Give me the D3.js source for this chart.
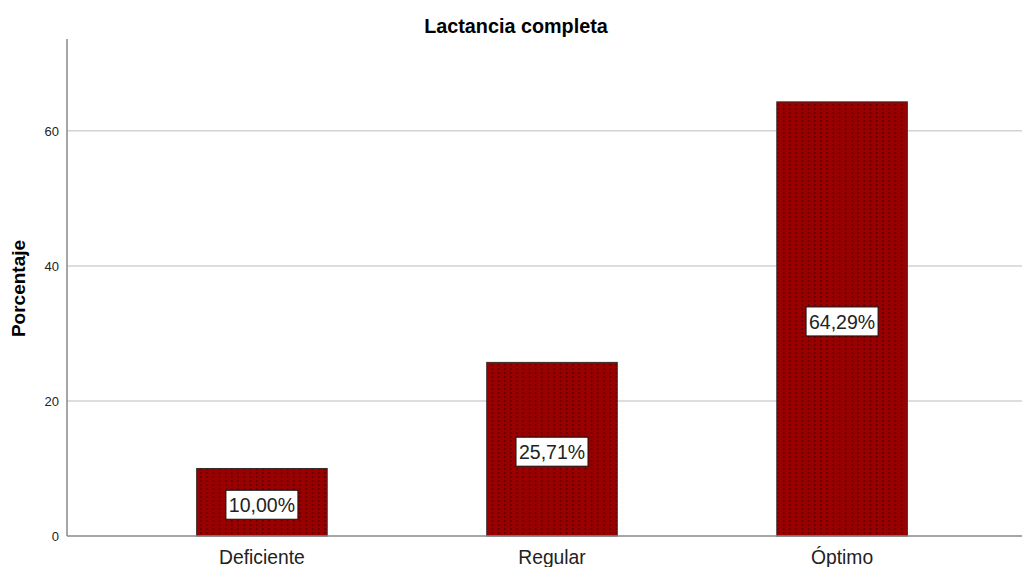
<!DOCTYPE html>
<html>
<head>
<meta charset="utf-8">
<script src="https://cdn.jsdelivr.net/npm/d3@7"></script>
<style>
  body { margin: 0; background: #fff; }
  text { font-family: "Liberation Sans", Arial, sans-serif; }
</style>
</head>
<body>
<svg id="chart" width="1022" height="567"></svg>
<script>
const categories = ["Deficiente", "Regular", "Óptimo"];
const values = [10.00, 25.71, 64.29];
const labels = ["10,00%", "25,71%", "64,29%"];
const yTicks = [0, 20, 40, 60];

const width = 1022, height = 567;
const margin = { top: 39, left: 67, bottom: 31 };

const svg = d3.select("#chart");

// scales
const x = d3.scaleBand()
  .domain(categories)
  .range([margin.left, 1037])
  .paddingInner(0.55)
  .paddingOuter(0.447);

const y = d3.scaleLinear()
  .domain([0, 73.6])
  .range([height - margin.bottom, margin.top]);

// dotted fill like the SPSS output
const defs = svg.append("defs");
const pat = defs.append("pattern")
  .attr("id", "dots")
  .attr("patternUnits", "userSpaceOnUse")
  .attr("width", 6.2)
  .attr("height", 4);
pat.append("rect").attr("width", 6.2).attr("height", 4).attr("fill", "#990000");
pat.append("rect").attr("x", 2).attr("y", 0).attr("width", 1).attr("height", 2).attr("fill", "#4a0000");

// gridlines
svg.append("g")
  .selectAll("line")
  .data(yTicks.filter(d => d > 0))
  .join("line")
  .attr("x1", margin.left)
  .attr("x2", width)
  .attr("y1", d => y(d))
  .attr("y2", d => y(d))
  .attr("stroke", "#d2d2d2")
  .attr("stroke-width", 1.5);

// bars
svg.append("g")
  .selectAll("rect")
  .data(values)
  .join("rect")
  .attr("x", (d, i) => x(categories[i]))
  .attr("y", d => y(d))
  .attr("width", x.bandwidth())
  .attr("height", d => y(0) - y(d))
  .attr("fill", "url(#dots)")
  .attr("stroke", "#3a2a2a")
  .attr("stroke-width", 1);

// y axis
const yAxis = svg.append("g")
  .attr("transform", `translate(${margin.left},0)`)
  .call(d3.axisLeft(y).tickValues(yTicks).tickSize(0).tickPadding(8));
yAxis.select(".domain").remove();
yAxis.selectAll("text").attr("font-size", 13).attr("fill", "#222");
svg.append("line")
  .attr("x1", margin.left).attr("x2", margin.left)
  .attr("y1", margin.top).attr("y2", y(0))
  .attr("stroke", "#888").attr("stroke-width", 1.5);

// x axis
const xAxis = svg.append("g")
  .attr("transform", `translate(0,${y(0)})`)
  .call(d3.axisBottom(x).tickSize(0).tickPadding(14));
xAxis.select(".domain").remove();
xAxis.selectAll("text").attr("font-size", 19.3).attr("fill", "#222");
svg.append("line")
  .attr("x1", margin.left).attr("x2", width)
  .attr("y1", y(0)).attr("y2", y(0))
  .attr("stroke", "#888").attr("stroke-width", 1.5);

// value labels
const lab = svg.append("g")
  .selectAll("g")
  .data(values)
  .join("g")
  .attr("transform", (d, i) =>
    `translate(${x(categories[i]) + x.bandwidth() / 2},${(y(d) + y(0)) / 2 + 3})`);
lab.append("rect")
  .attr("x", -36).attr("y", -15)
  .attr("width", 72).attr("height", 29)
  .attr("fill", "#fff").attr("stroke", "#111").attr("stroke-width", 1);
lab.append("text")
  .attr("text-anchor", "middle")
  .attr("dy", "0.36em")
  .attr("font-size", 19.5)
  .attr("fill", "#222")
  .text((d, i) => labels[i]);

// titles
svg.append("text")
  .attr("x", 516).attr("y", 33)
  .attr("text-anchor", "middle")
  .attr("font-size", 19.8).attr("font-weight", "bold")
  .text("Lactancia completa");

svg.append("text")
  .attr("transform", `translate(25,${(margin.top + y(0)) / 2 + 1}) rotate(-90)`)
  .attr("text-anchor", "middle")
  .attr("font-size", 19).attr("font-weight", "bold")
  .text("Porcentaje");
</script>
</body>
</html>
